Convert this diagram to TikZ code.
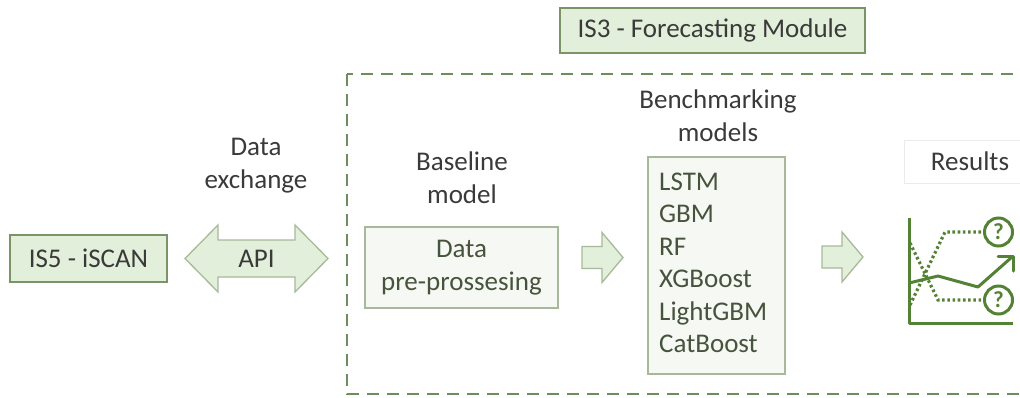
\documentclass[tikz,border=0pt]{standalone}
\usepackage{fontspec}
\setmainfont{Carlito}
\usetikzlibrary{arrows.meta}

\definecolor{lightgreen}{HTML}{E2EFDA}
\definecolor{paleggreen}{HTML}{F6F9F3}
\definecolor{boxedge}{HTML}{7A9468}
\definecolor{softedge}{HTML}{A8B99B}
\definecolor{frameedge}{HTML}{6E8D5E}
\definecolor{labeltext}{HTML}{3A3A3A}
\definecolor{modeltext}{HTML}{46533D}
\definecolor{chartgreen}{HTML}{548235}

\tikzset{
  lbl/.style={inner sep=0pt, text=labeltext, align=center,
    font=\fontsize{27}{33}\selectfont},
  greenbox/.style={draw=boxedge, line width=1.3pt, fill=lightgreen,
    text=labeltext, font=\fontsize{27}{33}\selectfont, inner sep=0pt},
  palebox/.style={draw=softedge, line width=1.2pt, fill=paleggreen,
    text=modeltext, font=\fontsize{27}{33}\selectfont, inner sep=0pt},
  blockfill/.style={draw=softedge, line width=1.3pt, fill=lightgreen},
  modframe/.style={draw=frameedge, line width=2.4pt, dash pattern=on 12pt off 8pt},
  chart/.style={draw=chartgreen, line width=3pt, line join=round},
  dotline/.style={draw=chartgreen, line width=3.2pt, dash pattern=on 2.6pt off 2.6pt},
  qmark/.style={circle, draw=chartgreen, line width=3pt, minimum size=28pt,
    inner sep=0pt, text=chartgreen, font=\bfseries\fontsize{23}{23}\selectfont},
  pics/fatarrow/.style={code={
    \draw[blockfill] (0,-11) -- (20,-11) -- (20,-25) -- (41,0) -- (20,25)
      -- (20,11) -- (0,11) -- cycle;}}
}

\begin{document}
\begin{tikzpicture}[x=1pt,y=-1pt]
\useasboundingbox (0,0) rectangle (1020,397);

% dashed frame of the forecasting module (runs off the right edge)
\begin{scope}
  \clip (0,0) rectangle (1020,397);
  \draw[modframe] (347,74) rectangle (1060,394);
\end{scope}

% module title
\node[greenbox, minimum width=305pt, minimum height=45pt] (is3) at (712.5,30.5)
  {IS3 - Forecasting Module};

% external system and data exchange
\node[greenbox, minimum width=157pt, minimum height=47pt] (is5) at (88.5,258.5)
  {IS5 - iSCAN};
\node[lbl] (xch) at (256,166) {Data\\exchange};
\draw[blockfill] (185,258.5) -- (218,225) -- (218,240) -- (295,240) -- (295,225)
  -- (328,258.5) -- (295,292) -- (295,277) -- (218,277) -- (218,292) -- cycle;
\node[lbl] (api) at (256.5,258.5) {API};

% baseline model
\node[lbl] (base) at (462,178) {Baseline\\model};
\node[palebox, minimum width=193pt, minimum height=81pt, align=center]
  (prep) at (461.5,267.5) {Data\\pre-prossesing};

\pic at (582,257.5) {fatarrow};

% benchmarking models
\node[lbl] (bench) at (718,116) {Benchmarking\\models};
\node[palebox, minimum width=137pt, minimum height=217pt] (models) at (716.5,265.5) {};
\node[inner sep=0pt, anchor=base west, text=modeltext, align=left,
  font=\fontsize{27}{32.5}\selectfont] (list) at (659,352.5)
  {LSTM\\GBM\\RF\\XGBoost\\LightGBM\\CatBoost};

\pic at (822,257) {fatarrow};

% results
\node[draw=black!8, line width=0.8pt, fill=white, minimum width=116pt,
  minimum height=43pt, inner sep=0pt] (resbox) at (962,161.5) {};
\node[lbl] (res) at (970,161) {Results};

% chart with uncertain outcomes
\node[qmark] (q1) at (998.5,232) {?};
\node[qmark] (q2) at (998.5,300) {?};
\draw[chart] (909,218) -- (909,323) -- (1013,323);
\draw[chart] (909,283) -- (938,276) -- (978,287) -- (1012,257);
\draw[chart, line cap=round] (998,256) -- (1013,256) -- (1013,271);
\draw[dotline] (910,305) -- (945,232) -- (q1.west);
\draw[dotline] (910,243) -- (938,300) -- (q2.west);
\end{tikzpicture}
\end{document}
